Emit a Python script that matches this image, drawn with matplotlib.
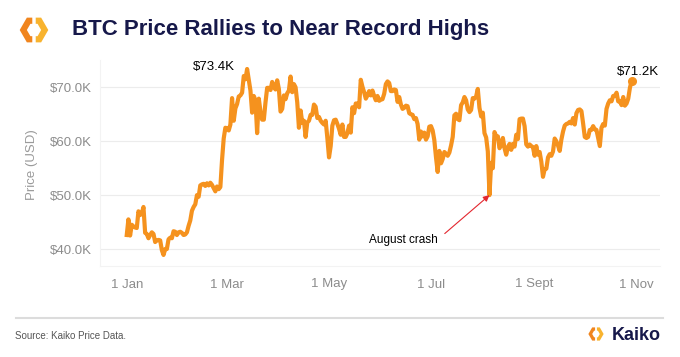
import numpy as np
import pandas as pd
import matplotlib
matplotlib.use("Agg")
import matplotlib.pyplot as plt
from matplotlib.patches import Polygon

plt.rcParams['font.family'] = ['Liberation Sans', 'DejaVu Sans']

# BTC daily price (USD thousands), 1 Jan - 29 Oct
jan = [42.6, 45.5, 42.5, 44.5, 44.2, 44.0, 43.9, 47.0, 46.3, 46.6, 47.8, 43.0, 42.8, 42.0, 42.6, 43.1,
       42.8, 41.3, 41.6, 41.7, 41.6, 39.8, 38.9, 40.0, 40.0, 41.8, 42.1, 42.0, 43.3, 43.2, 42.6]
feb = [43.1, 43.2, 43.0, 42.6, 42.7, 43.1, 44.3, 45.3, 47.1, 47.8, 48.3, 50.0, 49.7, 51.8, 52.0,
       52.1, 51.7, 52.2, 51.8, 52.3, 51.9, 51.3, 50.7, 51.6, 51.1, 51.5, 56.5, 60.5, 62.5]
mar = [62.4, 62.0, 63.1, 68.0, 63.8, 66.1, 66.9, 68.3, 68.5, 69.0, 72.1, 71.5, 73.4, 71.4, 69.4,
       65.3, 68.4, 67.6, 61.5, 67.9, 65.5, 64.0, 64.0, 67.2, 69.9, 69.9, 69.5, 71.0, 70.0, 69.6, 71.3]
apr = [69.7, 65.5, 66.0, 68.5, 67.8, 68.9, 69.4, 72.0, 69.1, 70.6, 70.0, 67.2, 62.5, 65.7, 63.4,
       63.8, 60.8, 63.5, 63.8, 64.9, 64.9, 66.8, 66.4, 64.3, 64.5, 63.8, 63.4, 63.1, 63.8, 60.6]
may = [57.0, 59.1, 62.9, 63.9, 64.0, 63.2, 62.3, 61.2, 63.1, 60.8, 60.8, 61.5, 62.9, 61.6, 66.3,
       65.2, 67.0, 67.0, 66.3, 71.4, 70.1, 69.1, 67.9, 68.5, 69.3, 68.5, 69.4, 68.4, 67.6, 68.4, 67.5]
jun = [67.7, 67.8, 68.8, 70.6, 71.1, 70.8, 69.3, 69.3, 69.6, 69.5, 67.3, 68.2, 66.8, 66.0, 66.2,
       66.6, 66.5, 65.2, 65.0, 64.9, 64.1, 64.3, 63.2, 60.3, 61.8, 60.9, 61.6, 60.3, 60.9, 62.7]
jul = [62.8, 62.0, 60.2, 57.0, 54.3, 58.2, 55.9, 56.7, 58.0, 57.7, 57.3, 57.9, 59.2, 60.8, 64.8,
       65.1, 64.1, 63.9, 66.7, 67.2, 68.2, 67.6, 65.9, 65.4, 65.8, 68.0, 67.9, 68.3, 69.7, 66.2, 64.6]
aug = [65.3, 61.5, 60.7, 58.1, 50.0, 56.0, 55.0, 61.7, 60.9, 60.9, 58.7, 59.3, 60.6, 58.7, 57.5,
       58.9, 59.5, 58.4, 59.5, 59.0, 61.2, 60.4, 64.1, 64.2, 64.2, 62.8, 59.4, 59.0, 59.4, 59.1, 58.9]
sep = [57.3, 59.1, 57.5, 58.0, 56.2, 53.4, 54.8, 54.9, 57.0, 57.6, 57.3, 58.1, 60.5, 60.0, 59.2,
       58.2, 60.3, 61.8, 62.9, 63.2, 63.3, 63.6, 63.3, 64.3, 63.1, 65.2, 65.8, 65.9, 65.6, 63.3]
oct_ = [60.8, 60.6, 60.8, 62.1, 62.1, 62.8, 62.2, 62.1, 60.6, 59.1, 62.5, 63.2, 62.9, 66.0, 67.0,
        67.6, 67.4, 68.4, 68.4, 69.0, 67.4, 67.4, 66.7, 68.2, 66.6, 67.0, 67.9, 69.9, 71.2]

prices = jan + feb + mar + apr + may + jun + jul + aug + sep + oct_
dates = pd.date_range("2024-01-01", periods=len(prices), freq="D")

tick_dates = pd.to_datetime(["2024-01-01", "2024-03-01", "2024-05-01", "2024-07-01", "2024-09-01", "2024-11-01"])
tick_labels = ["1 Jan", "1 Mar", "1 May", "1 Jul", "1 Sept", "1 Nov"]
y_ticks = [40, 50, 60, 70]
y_labels = ["$40.0K", "$50.0K", "$60.0K", "$70.0K"]

peak_date = pd.Timestamp("2024-03-13")
crash_date = pd.Timestamp("2024-08-05")

ORANGE = "#f5921e"
NAVY = "#16184a"
GREY = "#8c8c8c"

fig = plt.figure(figsize=(6.8, 3.57), dpi=100)
fig.patch.set_facecolor("white")


def draw_logo(cx, cy, size):
    # hexagon ring split into two chevrons, in pixel coords
    lax = fig.add_axes([(cx - size) / 680, 1 - (cy + size) / 357, 2 * size / 680, 2 * size / 357])
    lax.set_xlim(-1.05, 1.05)
    lax.set_ylim(-1.05, 1.05)
    lax.axis("off")
    g, h, ri = 0.12, 0.866, 0.5
    left = [(-g, h), (-0.5, h), (-1, 0), (-0.5, -h), (-g, -h),
            (-g, -h * ri), (-0.5 * ri, -h * ri), (-ri, 0), (-0.5 * ri, h * ri), (-g, h * ri)]
    right = [(-x, y) for x, y in left]
    lax.add_patch(Polygon(left, closed=True, facecolor="#f0851e", edgecolor="none"))
    lax.add_patch(Polygon(right, closed=True, facecolor="#f8b32e", edgecolor="none"))


draw_logo(34, 30, 15)
fig.text(72 / 680, 1 - 30 / 357, "BTC Price Rallies to Near Record Highs",
         fontsize=16, fontweight="bold", color=NAVY, va="center", ha="left")

ax = fig.add_axes([100 / 680, 1 - 266 / 357, 560 / 680, 206 / 357])
ax.plot(dates, prices, color=ORANGE, lw=3, solid_joinstyle="round")
ax.plot(dates[-1], prices[-1], "o", color=ORANGE, ms=5.5)

ax.set_xlim(pd.Timestamp("2024-01-01") - pd.Timedelta(days=16),
            pd.Timestamp("2024-01-01") + pd.Timedelta(days=319))
ax.set_ylim(36.85, 75.07)
ax.set_xticks(tick_dates)
ax.set_xticklabels(tick_labels)
ax.set_yticks(y_ticks)
ax.set_yticklabels(y_labels)
ax.tick_params(axis="both", length=0, labelsize=9.5, labelcolor=GREY)
ax.tick_params(axis="x", pad=9)
ax.tick_params(axis="y", pad=6)
ax.grid(axis="y", color="#ececec", lw=0.8)
ax.set_axisbelow(True)
for s in ["top", "right"]:
    ax.spines[s].set_visible(False)
for s in ["left", "bottom"]:
    ax.spines[s].set_color("#f3f3f3")

fig.text(32 / 680, 1 - 165 / 357, "Price (USD)", rotation=90, fontsize=9.5, color="#9a9a9a",
         ha="center", va="center")

peak_val = prices[dates.get_loc(peak_date)]
ax.annotate(f"${peak_val:.1f}K", xy=(peak_date, peak_val), xytext=(-24, 1.5),
            textcoords="offset points", ha="center", va="center", fontsize=9.5, color="black")
ax.annotate(f"${prices[-1]:.1f}K", xy=(dates[-1], prices[-1]), xytext=(4.5, 6.5),
            textcoords="offset points", ha="center", va="center", fontsize=9.5, color="black")
crash_val = prices[dates.get_loc(crash_date)]
ax.annotate("August crash", xy=(crash_date, crash_val), xytext=(-62, -32),
            textcoords="offset points", ha="center", va="center", fontsize=8.5, color="black",
            arrowprops=dict(arrowstyle="-|>", color="#e3262e", lw=0.8, mutation_scale=9,
                            relpos=(1, 0.5), shrinkA=4, shrinkB=0))

# footer
fig.add_artist(plt.Line2D([16 / 680, 663 / 680], [1 - 318 / 357, 1 - 318 / 357],
                          color="#dcdcdc", lw=1.5, transform=fig.transFigure))
fig.text(15 / 680, 1 - 336 / 357, "Source: Kaiko Price Data.", fontsize=7, color="#555555",
         va="center", ha="left")
draw_logo(596, 334, 8)
fig.text(612 / 680, 1 - 335 / 357, "Kaiko", fontsize=13, fontweight="bold", color=NAVY,
         va="center", ha="left")

fig.savefig("out.png", dpi=100, facecolor="white")
